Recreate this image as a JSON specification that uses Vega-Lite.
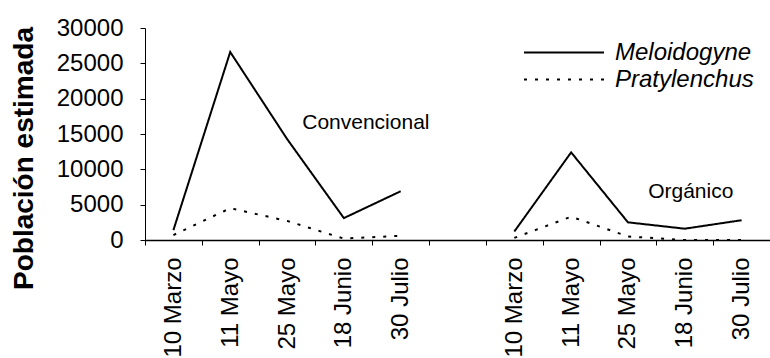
{
  "$schema": "https://vega.github.io/schema/vega-lite/v6.json",
  "width": 625,
  "height": 212,
  "autosize": {"type": "none"},
  "padding": {"left": 145, "top": 28, "right": 0, "bottom": 118},
  "background": "white",
  "config": {
    "view": {"stroke": null},
    "font": "Liberation Sans",
    "axis": {"domainColor": "black", "tickColor": "black", "labelColor": "black", "titleColor": "black", "grid": false, "domainWidth": 1.5}
  },
  "datasets": {
    "series": [
      {"sistema": "Convencional", "fecha": "C-10 Marzo", "especie": "Meloidogyne", "poblacion": 1400},
      {"sistema": "Convencional", "fecha": "C-11 Mayo", "especie": "Meloidogyne", "poblacion": 26600},
      {"sistema": "Convencional", "fecha": "C-25 Mayo", "especie": "Meloidogyne", "poblacion": 14300},
      {"sistema": "Convencional", "fecha": "C-18 Junio", "especie": "Meloidogyne", "poblacion": 3100},
      {"sistema": "Convencional", "fecha": "C-30 Julio", "especie": "Meloidogyne", "poblacion": 6900},
      {"sistema": "Convencional", "fecha": "C-10 Marzo", "especie": "Pratylenchus", "poblacion": 700},
      {"sistema": "Convencional", "fecha": "C-11 Mayo", "especie": "Pratylenchus", "poblacion": 4500},
      {"sistema": "Convencional", "fecha": "C-25 Mayo", "especie": "Pratylenchus", "poblacion": 2700},
      {"sistema": "Convencional", "fecha": "C-18 Junio", "especie": "Pratylenchus", "poblacion": 200},
      {"sistema": "Convencional", "fecha": "C-30 Julio", "especie": "Pratylenchus", "poblacion": 600},
      {"sistema": "Orgánico", "fecha": "O-10 Marzo", "especie": "Meloidogyne", "poblacion": 1200},
      {"sistema": "Orgánico", "fecha": "O-11 Mayo", "especie": "Meloidogyne", "poblacion": 12400},
      {"sistema": "Orgánico", "fecha": "O-25 Mayo", "especie": "Meloidogyne", "poblacion": 2500},
      {"sistema": "Orgánico", "fecha": "O-18 Junio", "especie": "Meloidogyne", "poblacion": 1600},
      {"sistema": "Orgánico", "fecha": "O-30 Julio", "especie": "Meloidogyne", "poblacion": 2800},
      {"sistema": "Orgánico", "fecha": "O-10 Marzo", "especie": "Pratylenchus", "poblacion": 300},
      {"sistema": "Orgánico", "fecha": "O-11 Mayo", "especie": "Pratylenchus", "poblacion": 3300},
      {"sistema": "Orgánico", "fecha": "O-25 Mayo", "especie": "Pratylenchus", "poblacion": 500},
      {"sistema": "Orgánico", "fecha": "O-18 Junio", "especie": "Pratylenchus", "poblacion": 0},
      {"sistema": "Orgánico", "fecha": "O-30 Julio", "especie": "Pratylenchus", "poblacion": 0}
    ]
  },
  "data": {"name": "series"},
  "encoding": {
    "x": {
      "field": "fecha",
      "type": "ordinal",
      "bandPosition": 0.5,
      "scale": {
        "type": "band",
        "domain": ["C-10 Marzo", "C-11 Mayo", "C-25 Mayo", "C-18 Junio", "C-30 Julio", "gap", "O-10 Marzo", "O-11 Mayo", "O-25 Mayo", "O-18 Junio", "O-30 Julio"],
        "paddingInner": 0,
        "paddingOuter": 0
      },
      "axis": {
        "title": null,
        "tickBand": "extent",
        "labelExpr": "datum.label == 'gap' ? '' : substring(datum.label, 2)",
        "labelAngle": -90,
        "labelAlign": "right",
        "labelBaseline": "middle",
        "labelFontSize": 24,
        "labelPadding": 12,
        "tickSize": 5,
        "labelOverlap": false
      }
    },
    "y": {
      "field": "poblacion",
      "type": "quantitative",
      "scale": {"domain": [0, 30000], "nice": false, "zero": true},
      "axis": {
        "values": [0, 5000, 10000, 15000, 20000, 25000, 30000],
        "format": "d",
        "labelFontSize": 24,
        "labelPadding": 17,
        "tickSize": 5,
        "domainWidth": 1,
        "title": "Población estimada",
        "titleFontSize": 28,
        "titleFontWeight": "bold",
        "titleAngle": -90,
        "titleX": -121,
        "titleY": 130,
        "titleAlign": "center",
        "titleBaseline": "middle"
      }
    }
  },
  "layer": [
    {
      "mark": {"type": "line", "color": "black", "strokeWidth": 2},
      "encoding": {
        "strokeDash": {
          "field": "especie",
          "type": "nominal",
          "scale": {"domain": ["Meloidogyne", "Pratylenchus"], "range": [[1, 0], [3, 8]]},
          "legend": {
            "orient": "none",
            "legendX": 378,
            "legendY": 11,
            "title": null,
            "symbolType": "stroke",
            "symbolSize": 6400,
            "symbolStrokeWidth": 2,
            "symbolStrokeColor": "black",
            "labelFontSize": 24,
            "labelFontStyle": "italic",
            "labelOffset": 10,
            "labelColor": "black",
            "clipHeight": 27,
            "rowPadding": 0
          }
        },
        "detail": {"field": "sistema"}
      }
    },
    {
      "transform": [{"filter": "datum.fecha == 'C-18 Junio' && datum.especie == 'Meloidogyne'"}],
      "mark": {"type": "text", "text": "Convencional", "fontSize": 21, "align": "center", "baseline": "middle", "dx": 22, "color": "black"},
      "encoding": {"x": {"datum": "C-18 Junio", "type": "ordinal", "bandPosition": 0.5}, "y": {"datum": 16500, "type": "quantitative"}}
    },
    {
      "transform": [{"filter": "datum.fecha == 'O-18 Junio' && datum.especie == 'Meloidogyne'"}],
      "mark": {"type": "text", "text": "Orgánico", "fontSize": 21, "align": "center", "baseline": "middle", "dx": 6, "color": "black"},
      "encoding": {"x": {"datum": "O-18 Junio", "type": "ordinal", "bandPosition": 0.5}, "y": {"datum": 6800, "type": "quantitative"}}
    }
  ]
}
